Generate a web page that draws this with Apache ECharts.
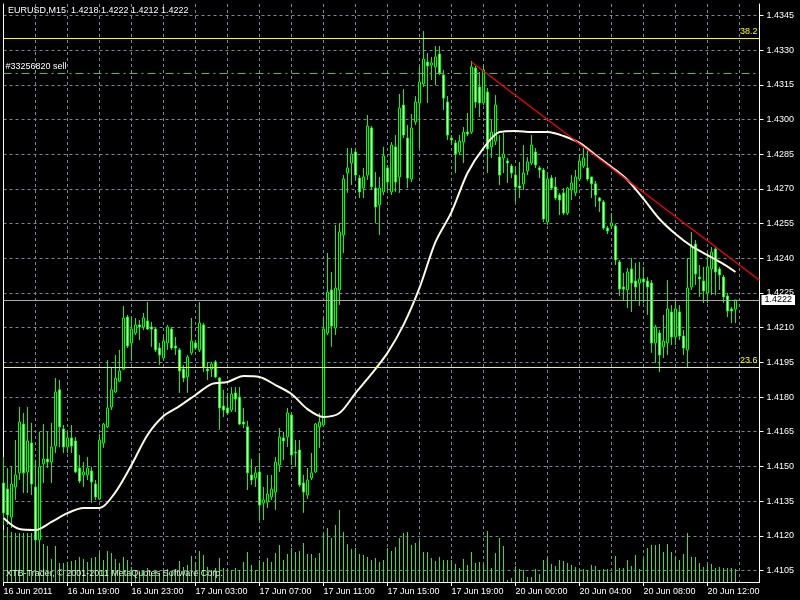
<!DOCTYPE html>
<html><head><meta charset="utf-8">
<script src="https://cdn.jsdelivr.net/npm/echarts@6/dist/echarts.min.js"></script>
<style>html,body{margin:0;padding:0;background:#000}#c{width:800px;height:600px}</style>
</head><body><div id="c"></div>
<script>
const symbol = 'EURUSD';
const timeframe = 'M15';
const xTickLabels = ['16 Jun 2011','16 Jun 19:00','16 Jun 23:00','17 Jun 03:00','17 Jun 07:00','17 Jun 11:00','17 Jun 15:00','17 Jun 19:00','20 Jun 00:00','20 Jun 04:00','20 Jun 08:00','20 Jun 12:00'];
const yTickValues = [1.4105,1.4120,1.4135,1.4150,1.4165,1.4180,1.4195,1.4210,1.4225,1.4240,1.4255,1.4270,1.4285,1.4300,1.4315,1.4330,1.4345];
const slotCount = 190; // bars + right shift
const openP = [1.41428,1.41402,1.41281,1.41411,1.41472,1.41683,1.41476,1.41601,1.41411,1.41182,1.41511,1.41532,1.41519,1.41588,1.41831,1.41662,1.41584,1.41623,1.41610,1.41493,1.41463,1.41463,1.41480,1.41424,1.41359,1.41601,1.41671,1.41757,1.41822,1.41869,1.41921,1.42146,1.42034,1.42077,1.42112,1.42103,1.42129,1.42103,1.42094,1.42012,1.41969,1.42034,1.42094,1.42021,1.42004,1.41921,1.41887,1.41991,1.42034,1.42004,1.42112,1.41921,1.41921,1.41952,1.41882,1.41761,1.41753,1.41744,1.41818,1.41800,1.41692,1.41671,1.41463,1.41450,1.41476,1.41342,1.41346,1.41368,1.41389,1.41506,1.41623,1.41627,1.41722,1.41562,1.41571,1.41428,1.41376,1.41450,1.41476,1.41671,1.41679,1.42077,1.42263,1.42099,1.42263,1.42501,1.42769,1.42812,1.42860,1.42747,1.42704,1.42760,1.42964,1.42704,1.42631,1.42687,1.42791,1.42687,1.42882,1.42752,1.43063,1.42920,1.42743,1.42990,1.43072,1.43154,1.43249,1.43236,1.43228,1.43284,1.43193,1.43076,1.42920,1.42899,1.42860,1.42903,1.42946,1.42946,1.43223,1.43141,1.43072,1.43119,1.42882,1.42907,1.42838,1.42834,1.42821,1.42799,1.42760,1.42713,1.42722,1.42778,1.42812,1.42860,1.42791,1.42782,1.42557,1.42747,1.42709,1.42674,1.42683,1.42596,1.42696,1.42683,1.42743,1.42799,1.42791,1.42752,1.42722,1.42661,1.42644,1.42531,1.42540,1.42540,1.42384,1.42276,1.42263,1.42354,1.42302,1.42293,1.42311,1.42302,1.42293,1.42034,1.42077,1.42017,1.42034,1.42168,1.42060,1.42168,1.42064,1.42004,1.42276,1.42462,1.42319,1.42302,1.42250,1.42354,1.42440,1.42354,1.42319,1.42237,1.42181,1.4218];
const closeP = [1.41299,1.41290,1.41424,1.41463,1.41692,1.41472,1.41610,1.41424,1.41182,1.41498,1.41532,1.41519,1.41584,1.41822,1.41671,1.41584,1.41623,1.41588,1.41476,1.41437,1.41476,1.41493,1.41433,1.41368,1.41614,1.41683,1.41753,1.41831,1.41882,1.41913,1.42142,1.42021,1.42094,1.42112,1.42103,1.42142,1.42094,1.42094,1.42004,1.41982,1.42042,1.42103,1.42012,1.42012,1.41913,1.41882,1.41973,1.42042,1.42012,1.42120,1.41930,1.41913,1.41943,1.41887,1.41753,1.41744,1.41731,1.41813,1.41792,1.41683,1.41683,1.41472,1.41441,1.41472,1.41333,1.41355,1.41381,1.41402,1.41519,1.41627,1.41610,1.41731,1.41549,1.41558,1.41420,1.41389,1.41441,1.41472,1.41683,1.41692,1.42094,1.42254,1.42107,1.42272,1.42514,1.42743,1.42791,1.42851,1.42760,1.42687,1.42752,1.42972,1.42709,1.42622,1.42704,1.42843,1.42730,1.42890,1.42730,1.43050,1.42933,1.42747,1.42964,1.43076,1.43163,1.43262,1.43232,1.43245,1.43271,1.43202,1.43093,1.42933,1.42912,1.42851,1.42907,1.42946,1.42938,1.43228,1.43076,1.43072,1.43215,1.42873,1.42946,1.43063,1.42760,1.42851,1.42812,1.42769,1.42709,1.42704,1.42769,1.42817,1.42890,1.42804,1.42782,1.42570,1.42743,1.42704,1.42661,1.42652,1.42596,1.42704,1.42726,1.42752,1.42821,1.42834,1.42743,1.42722,1.42674,1.42648,1.42531,1.42518,1.42553,1.42393,1.42267,1.42267,1.42341,1.42293,1.42276,1.42311,1.42298,1.42276,1.42034,1.42103,1.41982,1.42042,1.42181,1.42060,1.42181,1.42064,1.42012,1.42272,1.42449,1.42332,1.42311,1.42259,1.42363,1.42427,1.42341,1.42328,1.42233,1.42172,1.42172,1.4222];
const lowP = [1.41247,1.41247,1.41234,1.41355,1.41441,1.41385,1.41385,1.41376,1.41169,1.41169,1.41428,1.41493,1.41428,1.41558,1.41584,1.41558,1.41558,1.41558,1.41472,1.41428,1.41411,1.41441,1.41342,1.41355,1.41355,1.41580,1.41666,1.41744,1.41818,1.41865,1.41917,1.42012,1.41960,1.42068,1.42047,1.42090,1.42090,1.42017,1.41995,1.41939,1.41960,1.42004,1.42004,1.41982,1.41818,1.41865,1.41818,1.41982,1.42004,1.41995,1.41908,1.41874,1.41887,1.41882,1.41658,1.41714,1.41722,1.41735,1.41735,1.41679,1.41666,1.41398,1.41420,1.41411,1.41268,1.41268,1.41320,1.41355,1.41312,1.41476,1.41528,1.41584,1.41506,1.41498,1.41411,1.41299,1.41359,1.41441,1.41472,1.41580,1.41679,1.42068,1.42017,1.42068,1.42198,1.42423,1.42683,1.42717,1.42739,1.42661,1.42661,1.42739,1.42696,1.42553,1.42501,1.42674,1.42696,1.42674,1.42687,1.42683,1.42920,1.42704,1.42730,1.42977,1.42877,1.43141,1.43072,1.43171,1.43150,1.43193,1.43042,1.42912,1.42890,1.42769,1.42847,1.42812,1.42929,1.42938,1.43050,1.43011,1.43063,1.42769,1.42834,1.42890,1.42717,1.42769,1.42726,1.42747,1.42644,1.42661,1.42696,1.42760,1.42804,1.42791,1.42747,1.42557,1.42544,1.42696,1.42652,1.42587,1.42587,1.42587,1.42652,1.42670,1.42735,1.42791,1.42735,1.42661,1.42622,1.42600,1.42523,1.42505,1.42527,1.42371,1.42237,1.42220,1.42185,1.42168,1.42220,1.42194,1.42207,1.42155,1.41991,1.41947,1.41908,1.41969,1.41982,1.42025,1.42025,1.42047,1.41982,1.41930,1.42263,1.42285,1.42233,1.42207,1.42207,1.42241,1.42241,1.42263,1.42207,1.42146,1.42120,1.4212];
const highP = [1.41541,1.41493,1.41498,1.41614,1.41757,1.41731,1.41757,1.41688,1.41528,1.41649,1.41683,1.41649,1.41688,1.41882,1.41874,1.41679,1.41649,1.41679,1.41627,1.41549,1.41519,1.41541,1.41498,1.41441,1.41640,1.41688,1.41960,1.41930,1.41982,1.42004,1.42194,1.42155,1.42146,1.42142,1.42133,1.42164,1.42211,1.42125,1.42099,1.42034,1.42060,1.42112,1.42103,1.42060,1.42012,1.41939,1.41982,1.42142,1.42047,1.42211,1.42120,1.41952,1.41952,1.41960,1.41887,1.41831,1.41818,1.41843,1.41843,1.41843,1.41753,1.41697,1.41532,1.41498,1.41558,1.41411,1.41463,1.41463,1.41541,1.41666,1.41649,1.41753,1.41735,1.41614,1.41614,1.41463,1.41493,1.41558,1.41688,1.41731,1.42142,1.42423,1.42341,1.42544,1.42553,1.42760,1.42877,1.42877,1.42877,1.42760,1.42791,1.43020,1.42972,1.42773,1.42752,1.42882,1.42804,1.42903,1.42933,1.43111,1.43132,1.42977,1.43024,1.43102,1.43228,1.43383,1.43288,1.43271,1.43318,1.43318,1.43215,1.43102,1.42933,1.42912,1.42933,1.42968,1.43029,1.43254,1.43232,1.43206,1.43232,1.43137,1.42998,1.43106,1.42933,1.42942,1.42834,1.42808,1.42795,1.42817,1.42890,1.42838,1.42933,1.42877,1.42799,1.42791,1.42760,1.42760,1.42752,1.42683,1.42704,1.42709,1.42760,1.42782,1.42851,1.42877,1.42869,1.42752,1.42735,1.42665,1.42652,1.42540,1.42596,1.42548,1.42393,1.42337,1.42358,1.42401,1.42380,1.42384,1.42363,1.42319,1.42306,1.42112,1.42090,1.42155,1.42306,1.42198,1.42220,1.42198,1.42090,1.42401,1.42514,1.42479,1.42371,1.42363,1.42423,1.42449,1.42449,1.42363,1.42328,1.42250,1.42190,1.4222];
const tickVolume = [52,55,50,49,49,49,49,49,45,42,38,36,23,36,19,19,20,21,22,25,23,20,24,25,29,22,31,29,23,19,25,22,15,12,10,12,14,10,12,9,11,13,10,12,21,15,17,26,20,31,27,15,12,14,24,14,12,12,14,12,20,30,17,12,22,20,24,20,29,37,22,28,34,30,31,39,28,28,24,29,49,54,44,57,72,50,38,33,34,28,27,25,22,24,20,22,34,31,35,44,49,50,37,39,41,30,30,24,21,25,22,22,22,18,14,23,17,30,19,20,18,51,14,29,44,36,2,4,16,13,12,5,5,13,8,22,24,18,16,22,21,19,17,15,13,13,12,17,16,12,13,13,10,26,14,14,22,16,27,13,23,34,37,37,38,30,38,30,25,22,28,49,25,25,19,15,18,18,14,15,14,14,14,13];
const maIndex = [0,4,8,12,16,20,24,28,32,36,40,44,48,52,56,60,64,68,72,76,80,84,88,92,96,100,104,108,112,116,120,124,128,132,136,140,144,148,152,156,160,164,168,172,176,180,183];
const maValue = [1.41277,1.41229,1.41225,1.41260,1.41298,1.41320,1.41320,1.41389,1.41506,1.41636,1.41718,1.41761,1.41809,1.41856,1.41865,1.41891,1.41887,1.41852,1.41813,1.41748,1.41714,1.41731,1.41817,1.41900,1.41991,1.42112,1.42272,1.42471,1.42600,1.42769,1.42877,1.42946,1.42951,1.42946,1.42946,1.42929,1.42899,1.42847,1.42795,1.42739,1.42657,1.42570,1.42505,1.42453,1.42414,1.42375,1.42341];
const trendIndex = [117, 189];
const trendValue = [1.43249, 1.42305];
const fibValues = [1.43352, 1.41929];
const fibNames = ['38.2', '23.6'];
const orderValue = 1.43202;
const orderName = '#33256820 sell';
const bidValue = 1.4222;
const copyright = 'XTB-Trader, \u00a9 2001-2011 MetaQuotes Software Corp.';

const FONT = 'Liberation Sans';
const last = openP.length - 1;
const header = symbol + ',' + timeframe + '  ' + [openP[last], highP[last], lowP[last], closeP[last]].map(v => v.toFixed(4)).join(' ');
const slots = Array.from({length: slotCount}, (_, i) => String(i));
const candles = openP.map((o, i) => [o, closeP[i], lowP[i], highP[i]]);
const gridColor = '#778899';

const chart = echarts.init(document.getElementById('c'), null, {renderer: 'canvas'});
chart.setOption({
  backgroundColor: '#000',
  animation: false,
  title: [
    {text: header, left: 3, top: 1, textStyle: {color: '#fff', fontSize: 9, fontWeight: 'normal', fontFamily: FONT}},
    {text: copyright, left: 1, top: 564, textStyle: {color: '#e8e8e8', fontSize: 9, fontWeight: 'normal', fontFamily: FONT}}
  ],
  grid: {left: 3.5, right: 40.5, top: 4, bottom: 18, containLabel: false},
  xAxis: {
    type: 'category', data: slots, boundaryGap: false,
    axisLine: {show: true, lineStyle: {color: '#fff', width: 1}},
    axisTick: {show: true, length: 4, interval: (i) => i % 16 === 0, lineStyle: {color: '#fff'}},
    axisLabel: {interval: (i) => i % 16 === 0, formatter: (v, i) => xTickLabels[Math.round(Number(v) / 16)] || '', color: '#fff', fontSize: 9, fontFamily: FONT, align: 'left', margin: 5},
    splitLine: {show: true, interval: (i) => i % 8 === 0, lineStyle: {color: gridColor, type: [3, 3], width: 1}}
  },
  yAxis: [
    {
      type: 'value', position: 'right', min: 1.41, max: 1.435,
      axisLine: {show: true, lineStyle: {color: '#fff'}},
      axisTick: {show: true, length: 4, customValues: yTickValues, lineStyle: {color: '#fff'}},
      axisLabel: {customValues: yTickValues, formatter: (v) => v.toFixed(4), color: '#fff', fontSize: 9, fontFamily: FONT, margin: 7},
      splitLine: {show: true, lineStyle: {color: gridColor, type: [3, 3], width: 1}}
    },
    {type: 'value', min: 0, max: 578, show: false},
    {type: 'value', position: 'left', min: 0, max: 1, axisLine: {show: true, lineStyle: {color: '#fff'}}, axisTick: {show: false}, axisLabel: {show: false}, splitLine: {show: false}}
  ],
  series: [
    {
      type: 'bar', name: 'volume', yAxisIndex: 1, data: tickVolume, barWidth: 1, silent: true, z: 2,
      itemStyle: {color: '#22ee22', opacity: 1, borderWidth: 0}
    },
    {
      type: 'candlestick', name: 'price', data: candles, barWidth: 3, z: 3,
      itemStyle: {color: '#000', color0: '#fff', borderColor: '#00ff00', borderColor0: '#00ff00', borderColorDoji: '#00ff00', borderWidth: 1},
      markLine: {
        silent: true, symbol: ['none', 'none'], animation: false, precision: 5,
        data: [
          {yAxis: fibValues[0], lineStyle: {color: '#ffff00', type: 'solid', width: 1}, label: {show: true, position: 'insideEndTop', formatter: fibNames[0], color: '#ffff00', fontSize: 9, fontFamily: FONT, distance: 2}},
          {yAxis: fibValues[1], lineStyle: {color: '#ffff00', type: 'solid', width: 1}, label: {show: true, position: 'insideEndTop', formatter: fibNames[1], color: '#ffff00', fontSize: 9, fontFamily: FONT, distance: 2}},
          {yAxis: orderValue, lineStyle: {color: '#3cc83c', type: [8, 4, 2, 4], width: 1}, label: {show: true, position: 'insideStartTop', formatter: orderName, color: '#fff', fontSize: 9, fontFamily: FONT, distance: 2}},
          {yAxis: bidValue, lineStyle: {color: '#a8a8a8', type: 'solid', width: 1}, label: {show: true, position: 'end', formatter: bidValue.toFixed(4), color: '#000', backgroundColor: '#fff', padding: [1, 3, 0, 3], fontSize: 9, fontFamily: FONT, distance: 2}}
        ]
      }
    },
    {
      type: 'line', name: 'MA', data: maIndex.map((x, i) => [x, maValue[i]]), smooth: 0.3, showSymbol: false, z: 4,
      lineStyle: {color: '#fffbe8', width: 2}
    },
    {
      type: 'line', name: 'trend', data: trendIndex.map((x, i) => [x, trendValue[i]]), showSymbol: false, z: 5,
      lineStyle: {color: '#ff0000', width: 1.2}
    }
  ]
});
</script></body></html>
